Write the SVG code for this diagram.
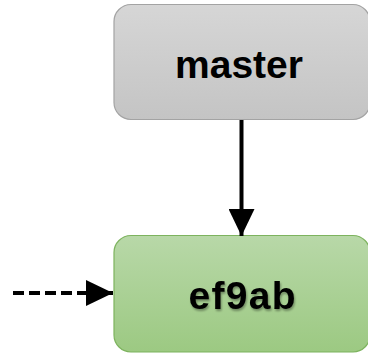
<svg xmlns="http://www.w3.org/2000/svg" width="368" height="354" viewBox="0 0 368 354">
<defs>
<linearGradient id="gGray" x1="0" y1="0" x2="0" y2="1">
<stop offset="0" stop-color="#d6d6d6"/>
<stop offset="1" stop-color="#c4c4c4"/>
</linearGradient>
<linearGradient id="gGreen" x1="0" y1="0" x2="0" y2="1">
<stop offset="0" stop-color="#b8d8a8"/>
<stop offset="1" stop-color="#9cc982"/>
</linearGradient>
<filter id="sh" x="-10%" y="-10%" width="130%" height="130%">
<feGaussianBlur in="SourceAlpha" stdDeviation="1"/>
<feOffset dx="1" dy="1.5" result="b"/>
<feComponentTransfer><feFuncA type="linear" slope="0.35"/></feComponentTransfer>
<feMerge><feMergeNode/><feMergeNode in="SourceGraphic"/></feMerge>
</filter>
<marker id="ah" markerWidth="27" markerHeight="26" refX="27" refY="13" orient="auto" markerUnits="userSpaceOnUse">
<path d="M0,0 L27,13 L0,26 Z" fill="#000"/>
</marker>
</defs>
<style>
.lbl{font-family:"Liberation Sans",Arial,sans-serif;font-weight:bold;font-size:39px;fill:#000;text-anchor:middle}
.conn{stroke:#000;stroke-width:4;fill:none}
</style>
<g id="master">
<rect x="114" y="4.5" width="256" height="115" rx="17" fill="url(#gGray)" stroke="#a3a3a3" stroke-width="1.2"/>
<text class="lbl" x="239" y="78">master</text>
</g>
<g id="ef9ab">
<rect x="114" y="235.5" width="256" height="116.5" rx="17" fill="url(#gGreen)" stroke="#7db35e" stroke-width="1.2"/>
<text class="lbl" x="242" y="309" textLength="107" lengthAdjust="spacing" filter="url(#sh)">ef9ab</text>
</g>
<g id="connectors">
<line class="conn" x1="241.5" y1="120" x2="241.5" y2="236" marker-end="url(#ah)"/>
<line class="conn" x1="13" y1="293" x2="113" y2="293" stroke-dasharray="11,5" marker-end="url(#ah)"/>
</g>
</svg>
